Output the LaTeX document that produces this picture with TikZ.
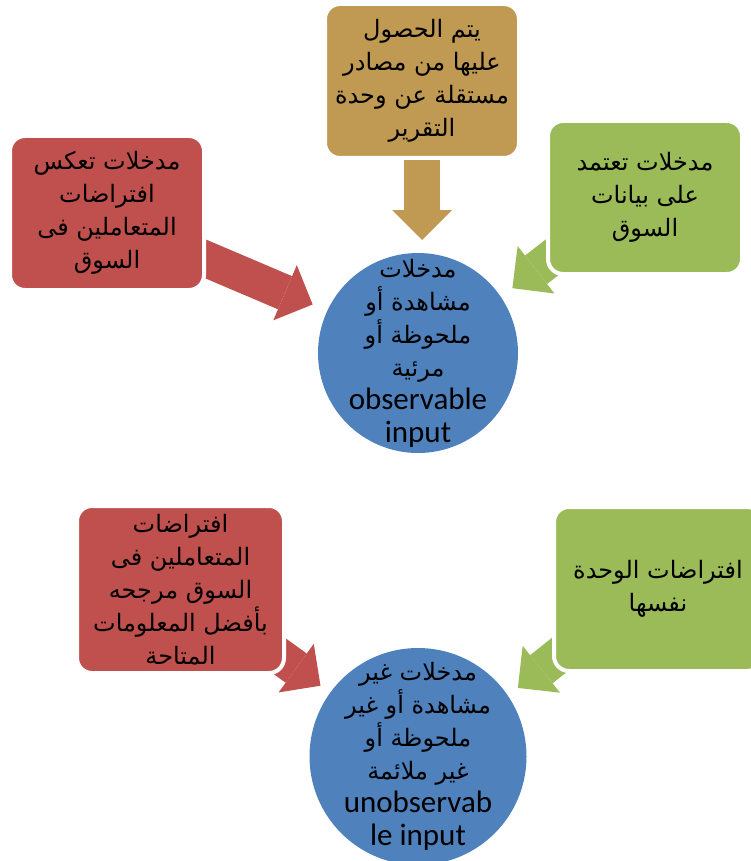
\documentclass[tikz,border=0pt]{standalone}
\usepackage{fontspec}
\setmainfont{Carlito}
\newfontfamily\arabicfont[Script=Arabic]{DejaVu Sans}
\TeXXeTstate=1
\usetikzlibrary{arrows.meta,positioning,backgrounds}
\definecolor{zloty}{RGB}{192,154,82}
\definecolor{czerwony}{HTML}{C0504D}
\definecolor{zielony}{HTML}{9BBB59}
\definecolor{niebieski}{HTML}{4F81BD}
\newcommand{\artekst}[1]{{\fontsize{24}{33}\arabicfont\beginR #1\endR}}

\begin{document}
\begin{tikzpicture}[x=1pt, y=-1pt, node distance=96pt]
\tikzset{
    %styl pola
    blok/.style={
           rectangle, rounded corners=15pt,
           draw=white, line width=4pt,
           minimum width=194pt, minimum height=154pt,
           inner sep=0pt, outer sep=0pt,
           align=center,
           font=\fontsize{24}{33}\selectfont},
    %styl kola
    kolo/.style={
           circle, fill=niebieski,
           minimum size=200pt,
           inner sep=0pt, outer sep=0pt},
    %napis w kole
    opis/.style={
           inner sep=0pt, align=center,
           font=\fontsize{31}{33}\selectfont},
    %gruba strzalka
    strzalka/.style={
           line width=36pt,
           -{Triangle[width=60pt,length=30pt,line width=0pt]}}
}
\useasboundingbox (0,0) rectangle (750,861);

%Kola
\node(wej1) [kolo] at (418,353) {};
\node(wej2) [kolo, minimum size=217pt, below=195pt of wej1] {};
\node(wej1t) [opis] at (wej1)
  {\artekst{مدخلات}\\ \artekst{مشاهدة أو}\\ \artekst{ملحوظة أو}\\ \artekst{مرئية}\\ observable\\ input};
\node(wej2t) [opis] at (wej2)
  {\artekst{مدخلات غير}\\ \artekst{مشاهدة أو غير}\\ \artekst{ملحوظة أو}\\ \artekst{غير ملائمة}\\ unobservab\\ le input};

%Pola
\node(zrodlo) [blok, fill=zloty, above=95pt of wej1, xshift=4pt]
  {\artekst{يتم الحصول}\\ \artekst{عليها من مصادر}\\ \artekst{مستقلة عن وحدة}\\ \artekst{التقرير}};
\node(zal1) [blok, fill=czerwony] at (107,213)
  {\artekst{مدخلات تعكس}\\ \artekst{افتراضات}\\ \artekst{المتعاملين فى}\\ \artekst{السوق}};
\node(rynek) [blok, fill=zielony, minimum height=153pt] at (645,197.5)
  {\artekst{مدخلات تعتمد}\\ \artekst{على بيانات}\\ \artekst{السوق}};
\node(zal2) [blok, fill=czerwony, minimum width=207pt, minimum height=167pt] at (180.5,589.5)
  {\artekst{افتراضات}\\ \artekst{المتعاملين فى}\\ \artekst{السوق مرجحه}\\ \artekst{بأفضل المعلومات}\\ \artekst{المتاحة}};
\node(wlasne) [blok, fill=zielony, minimum width=208pt, minimum height=164pt] at (658,589)
  {\artekst{افتراضات الوحدة}\\ \artekst{نفسها}};

%Strzalki
\begin{scope}[on background layer]
\draw[strzalka, zloty, shorten >=13pt] (zrodlo.south) -- (zrodlo.south |- wej1.north);
\draw[strzalka, czerwony, shorten <=-15pt, shorten >=16pt] (zal1.-25.6) -- (wej1.155.6);
\draw[strzalka, zielony, shorten <=-15pt, shorten >=14.5pt] (rynek.213.3) -- (wej1.34);
\draw[strzalka, czerwony, shorten <=-15pt, shorten >=12pt] (zal2.-34.5) -- (wej2.144.3);
\draw[strzalka, zielony, shorten <=-15pt, shorten >=12.7pt] (wlasne.214.5) -- (wej2.34.4);
\end{scope}
\end{tikzpicture}
\end{document}
